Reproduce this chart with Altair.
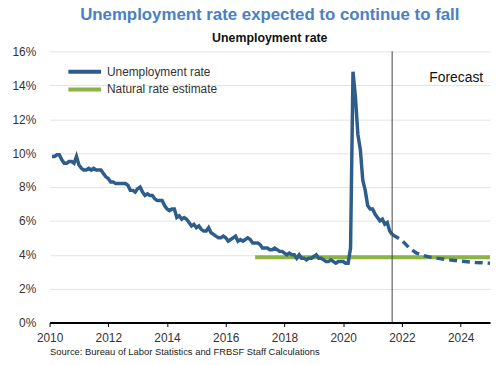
import altair as alt
import pandas as pd

# Monthly unemployment rate, Jan 2010 - Aug 2021
hist_years = list(range(2010, 2022))
hist_values = [
    9.8, 9.8, 9.9, 9.9, 9.6, 9.4, 9.4, 9.5, 9.5, 9.4, 9.8, 9.3,   # 2010
    9.1, 9.0, 9.0, 9.1, 9.0, 9.1, 9.0, 9.0, 9.0, 8.8, 8.6, 8.5,   # 2011
    8.3, 8.3, 8.2, 8.2, 8.2, 8.2, 8.2, 8.1, 7.8, 7.8, 7.7, 7.9,   # 2012
    8.0, 7.7, 7.5, 7.6, 7.5, 7.5, 7.3, 7.2, 7.2, 7.2, 6.9, 6.7,   # 2013
    6.6, 6.7, 6.7, 6.2, 6.3, 6.1, 6.2, 6.1, 5.9, 5.7, 5.8, 5.6,   # 2014
    5.7, 5.5, 5.4, 5.4, 5.6, 5.3, 5.2, 5.1, 5.0, 5.0, 5.1, 5.0,   # 2015
    4.8, 4.9, 5.0, 5.1, 4.8, 4.9, 4.8, 4.9, 5.0, 4.9, 4.7, 4.7,   # 2016
    4.7, 4.6, 4.4, 4.4, 4.4, 4.3, 4.3, 4.4, 4.3, 4.2, 4.2, 4.1,   # 2017
    4.0, 4.1, 4.0, 4.0, 3.8, 4.0, 3.8, 3.8, 3.7, 3.8, 3.8, 3.9,   # 2018
    4.0, 3.8, 3.8, 3.7, 3.6, 3.6, 3.7, 3.6, 3.5, 3.6, 3.6, 3.6,   # 2019
    3.5, 3.5, 4.4, 14.8, 13.3, 11.1, 10.2, 8.4, 7.8, 6.9, 6.7, 6.7,  # 2020
    6.4, 6.2, 6.0, 6.1, 5.8, 5.9, 5.4, 5.2,                       # 2021
]

# Forecast path (decimal year, rate)
fc_x = [2021.667, 2022.0, 2022.25, 2022.5, 2022.75, 2023.0, 2023.5, 2024.0, 2024.5, 2025.0]
fc_y = [5.2, 4.85, 4.4, 4.1, 3.95, 3.85, 3.72, 3.62, 3.55, 3.5]

# Natural rate estimate
nat_x = [2017.0, 2025.0]
nat_y = [3.85, 3.85]

forecast_start = [2021.667]
annot_x = [2023.85]
annot_y = [14.4]
annot_text = ["Forecast"]

x_ticks = [2010, 2012, 2014, 2016, 2018, 2020, 2022, 2024]
y_ticks = [0, 2, 4, 6, 8, 10, 12, 14, 16]

BLUE = "#2E5D8C"
GREEN = "#8AB443"
FONT = "Liberation Sans"

rows = []
i = 0
for y in hist_years:
    for m in range(1, 13):
        if i >= len(hist_values):
            break
        rows.append({"t": y + m / 12, "v": hist_values[i], "series": "Unemployment rate"})
        i += 1
hist_df = pd.DataFrame(rows)
fc_df = pd.DataFrame({"t": fc_x, "v": fc_y})
nat_df = pd.DataFrame({"t": nat_x, "v": nat_y, "series": ["Natural rate estimate"] * 2})
vline_df = pd.DataFrame({"t": forecast_start})
annot_df = pd.DataFrame({"t": annot_x, "v": annot_y, "label": annot_text})

x_enc = alt.X(
    "t:Q",
    scale=alt.Scale(domain=[2010, 2025], nice=False, zero=False),
    axis=alt.Axis(
        values=x_ticks, format="d", grid=False,
        title="Source: Bureau of Labor Statistics and FRBSF Staff Calculations",
        titleAnchor="start", titleAlign="left", titleFontWeight="normal",
        titleFontSize=9.5, titleColor="#222", titlePadding=3, titleFont=FONT,
        labelFontSize=12, labelColor="#333", labelFont=FONT, labelPadding=6,
        domainColor="#000", domainWidth=2, tickColor="#000", tickSize=4, tickWidth=1,
        labelFlush=False, labelOverlap=False,
    ),
)
y_enc = alt.Y(
    "v:Q",
    scale=alt.Scale(domain=[0, 16], nice=False, zero=True),
    axis=alt.Axis(
        values=y_ticks, tickCount=9, labelExpr="datum.value + '%'", title=None,
        domain=False, ticks=False, gridColor="#e3e3e3", gridWidth=1,
        labelFontSize=12, labelColor="#333", labelFont=FONT, labelPadding=14,
        labelOverlap=False,
    ),
)

color_scale = alt.Scale(domain=["Unemployment rate", "Natural rate estimate"], range=[BLUE, GREEN])
legend = alt.Legend(
    title=None, orient="none", legendX=28, legendY=13,
    symbolType="M-3,0L3,0", symbolSize=121, symbolStrokeWidth=4,
    labelFontSize=12, labelColor="#333", labelFont=FONT, labelOffset=15,
    rowPadding=1, padding=0,
)

nat = alt.Chart(nat_df).mark_line(strokeWidth=4).encode(
    x=x_enc, y=y_enc, color=alt.Color("series:N", scale=color_scale, legend=legend)
)
hist = alt.Chart(hist_df).mark_line(strokeWidth=3.5).encode(
    x=x_enc, y=y_enc, color=alt.Color("series:N", scale=color_scale, legend=legend)
)
fc = alt.Chart(fc_df).mark_line(strokeWidth=3.5, strokeDash=[8, 5], color=BLUE).encode(
    x=x_enc, y=y_enc
)
vline = alt.Chart(vline_df).mark_rule(color="#444", strokeWidth=1).encode(x=x_enc)
annot = alt.Chart(annot_df).mark_text(fontSize=14, font=FONT, color="#111").encode(
    x=x_enc, y=y_enc, text="label:N"
)

chart = alt.layer(nat, hist, fc, vline, annot).properties(
    width=445, height=274,
    autosize=alt.AutoSizeParams(type="none"),
    padding={"left": 42, "top": 42, "right": 2, "bottom": 38},
    title=alt.TitleParams(
        text="Unemployment rate expected to continue to fall",
        subtitle="Unemployment rate",
        anchor="middle", font=FONT, fontSize=17, fontWeight="bold", color="#4A80C4",
        subtitleFont=FONT, subtitleFontSize=12.5, subtitleFontWeight="bold",
        subtitleColor="#111", subtitlePadding=8, offset=0,
    ),
).configure_view(stroke=None)

chart.save("out.html", embed_options={"renderer": "svg", "actions": False})
